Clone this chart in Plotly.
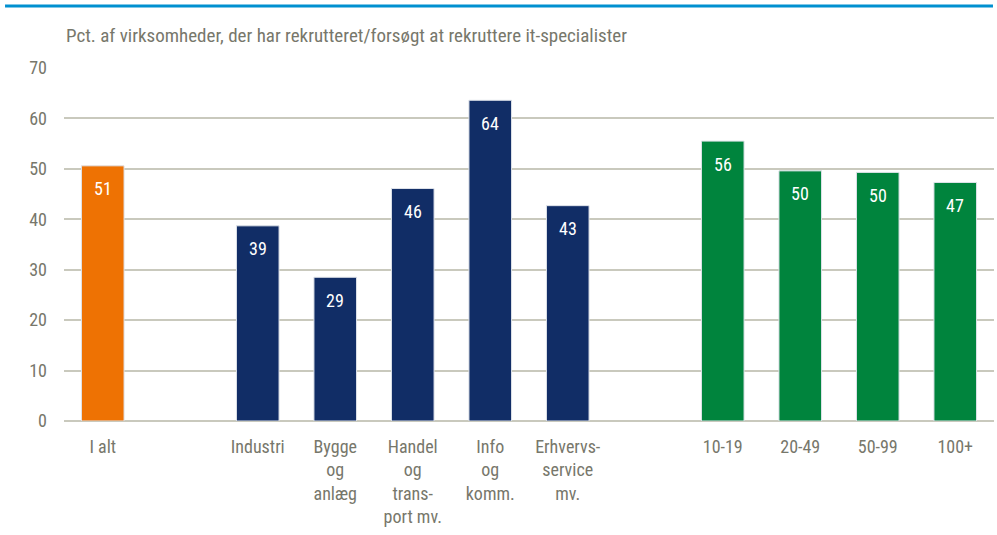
import plotly.graph_objects as go

categories = ["I alt", " ", "Industri", "Bygge<br>og<br>anlæg", "Handel<br>og<br>trans-<br>port mv.",
              "Info<br>og<br>komm.", "Erhvervs-<br>service<br>mv.", "  ",
              "10-19", "20-49", "50-99", "100+"]

total_cat = ["I alt"]
total_val = [50.6]
total_lbl = ["51"]

sector_cat = ["Industri", "Bygge<br>og<br>anlæg", "Handel<br>og<br>trans-<br>port mv.",
              "Info<br>og<br>komm.", "Erhvervs-<br>service<br>mv."]
sector_val = [38.7, 28.5, 46.1, 63.6, 42.7]
sector_lbl = ["39", "29", "46", "64", "43"]

size_cat = ["10-19", "20-49", "50-99", "100+"]
size_val = [55.5, 49.6, 49.3, 47.3]
size_lbl = ["56", "50", "50", "47"]

y_ticks = [0, 10, 20, 30, 40, 50, 60, 70]

FONT = "Liberation Sans Narrow, Arial Narrow, Roboto Condensed, Liberation Sans, sans-serif"
TXT = "#77776b"
GRID = "#c9c9bd"

fig = go.Figure()
for cats, vals, col in [(total_cat, total_val, "#ee7203"),
                        (sector_cat, sector_val, "#112d66"),
                        (size_cat, size_val, "#00843d")]:
    fig.add_trace(go.Bar(x=cats, y=vals, marker=dict(color=col, line=dict(color="#dfe3ea", width=1)),
                         width=0.55, showlegend=False, hoverinfo="skip"))

for cats, vals, lbls in [(total_cat, total_val, total_lbl),
                         (sector_cat, sector_val, sector_lbl),
                         (size_cat, size_val, size_lbl)]:
    for c, v, t in zip(cats, vals, lbls):
        fig.add_annotation(x=c, y=v, text=t, showarrow=False, yshift=-23, yanchor="middle",
                           font=dict(color="white", size=18, family=FONT))

fig.add_annotation(xref="paper", yref="paper", x=-0.0, y=1.0, yshift=33, xanchor="left", yanchor="middle",
                   text="Pct. af virksomheder, der har rekrutteret/forsøgt at rekruttere it-specialister",
                   showarrow=False, font=dict(color=TXT, size=19, family=FONT))

fig.add_shape(type="line", xref="paper", yref="paper", x0=-0.0634, x1=0.9989, y0=1.1756, y1=1.1756,
              line=dict(color="#0090d0", width=3))

fig.update_layout(
    width=997, height=535,
    margin=dict(l=64, r=3, t=68, b=114),
    plot_bgcolor="white", paper_bgcolor="white",
    font=dict(family=FONT, color=TXT, size=18),
    bargap=0.45,
    xaxis=dict(type="category", categoryorder="array", categoryarray=categories,
               tickvals=categories, ticktext=[c.strip() for c in categories],
               showgrid=False, showline=False, ticks="", automargin=False,
               ticklabelstandoff=13, tickfont=dict(size=18, color=TXT)),
    yaxis=dict(range=[0, 70], tickvals=y_ticks, showgrid=True, gridcolor=GRID, gridwidth=1.5,
               zeroline=True, zerolinecolor=GRID, zerolinewidth=1.5, ticks="", automargin=False,
               ticklabelstandoff=16, tickfont=dict(size=18, color=TXT)),
)

fig.write_html("out.html", config={"displayModeBar": False},
               post_script="document.body.style.margin='0';")
